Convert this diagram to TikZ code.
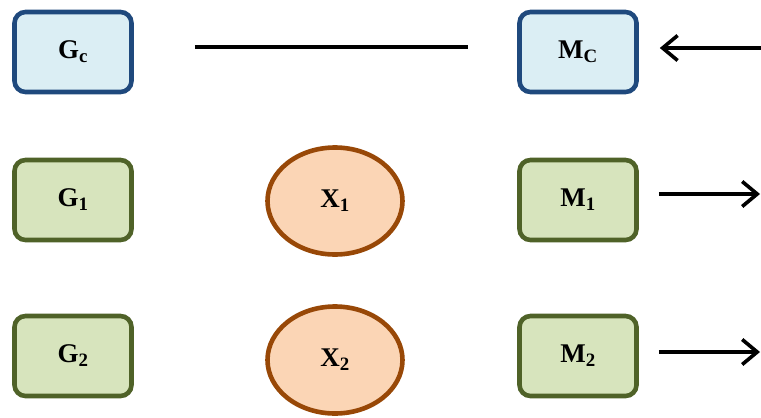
\documentclass[tikz,border=0pt]{standalone}
\usepackage{fontspec}
\setmainfont{Liberation Serif}
\usetikzlibrary{arrows.meta,shapes.geometric}

\definecolor{ctrlfill}{HTML}{DBEEF4}
\definecolor{ctrldraw}{HTML}{1F497D}
\definecolor{genfill}{HTML}{D7E4BD}
\definecolor{gendraw}{HTML}{4F6228}
\definecolor{varfill}{HTML}{FBD5B5}
\definecolor{vardraw}{HTML}{984807}

\tikzset{
  box/.style={rectangle, rounded corners=11pt, line width=4.6pt,
    minimum width=117pt, minimum height=80pt, inner sep=0pt,
    font=\fontsize{27}{30}\selectfont\bfseries},
  ctrlbox/.style={box, draw=ctrldraw, fill=ctrlfill},
  genbox/.style={box, draw=gendraw, fill=genfill},
  varnode/.style={ellipse, draw=vardraw, fill=varfill, line width=4.6pt,
    minimum width=135pt, minimum height=107pt, inner sep=0pt,
    font=\fontsize{27}{30}\selectfont\bfseries},
  link/.style={line width=4pt},
  flow/.style={line width=3.6pt, -{Straight Barb[length=15pt,width=25pt,line width=3.6pt]}}
}

\begin{document}
\begin{tikzpicture}[x=1pt, y=-1pt]
  \useasboundingbox (0,0) rectangle (761,418);

  % left column
  \node[ctrlbox] (Gc) at (73,52)  {G\textsubscript{c}};
  \node[genbox]  (G1) at (73,200) {G\textsubscript{1}};
  \node[genbox]  (G2) at (73,356) {G\textsubscript{2}};

  % middle column
  \node[varnode] (X1) at (335,201) {X\textsubscript{1}};
  \node[varnode] (X2) at (335,360) {X\textsubscript{2}};

  % right column
  \node[ctrlbox] (Mc) at (578,52)  {M\textsubscript{C}};
  \node[genbox]  (M1) at (578,200) {M\textsubscript{1}};
  \node[genbox]  (M2) at (578,356) {M\textsubscript{2}};

  % free ends at the right margin
  \coordinate (inC) at (761,48);
  \coordinate (out1) at (760,194);
  \coordinate (out2) at (760,352);

  % connectors
  \draw[link, shorten <=61pt, shorten >=49pt]
    ([yshift=5.5pt]Gc.east) -- ([yshift=5.5pt]Mc.west);
  \draw[flow, shorten >=21pt] (inC) -- (Mc.east |- inC);
  \draw[flow, shorten <=20pt] (M1.east |- out1) -- (out1);
  \draw[flow, shorten <=20pt] (M2.east |- out2) -- (out2);
\end{tikzpicture}
\end{document}
